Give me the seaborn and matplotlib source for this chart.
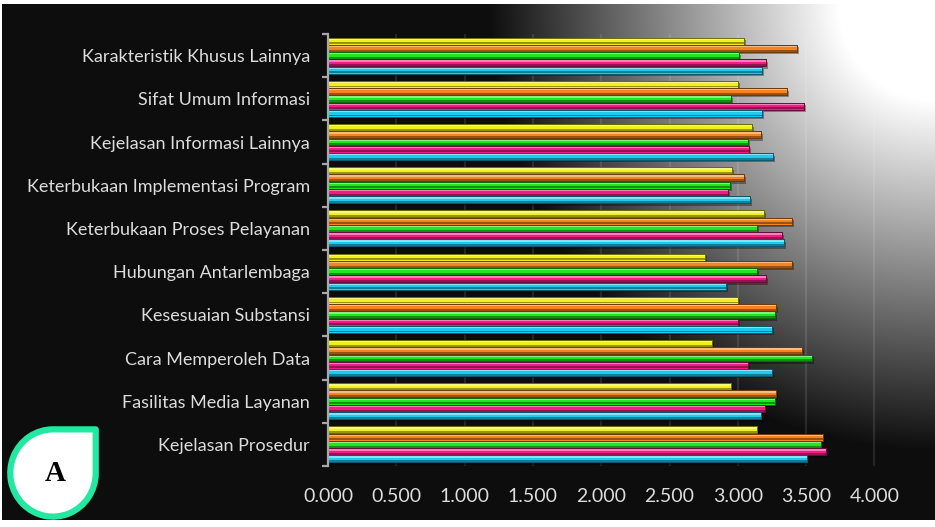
import numpy as np
import pandas as pd
import matplotlib
matplotlib.use("Agg")
import matplotlib.pyplot as plt
import matplotlib.patheffects as pe
from matplotlib.patches import Rectangle, PathPatch
from matplotlib.path import Path
from matplotlib.colors import to_rgb
import seaborn as sns

# ---- data -------------------------------------------------------------
kategori = [
    "Karakteristik Khusus Lainnya",
    "Sifat Umum Informasi",
    "Kejelasan Informasi Lainnya",
    "Keterbukaan Implementasi Program",
    "Keterbukaan Proses Pelayanan",
    "Hubungan Antarlembaga",
    "Kesesuaian Substansi",
    "Cara Memperoleh Data",
    "Fasilitas Media Layanan",
    "Kejelasan Prosedur",
]
kelompok = ["Kelompok 1", "Kelompok 2", "Kelompok 3", "Kelompok 4", "Kelompok 5"]

nilai_k1 = [3.048, 3.004, 3.101, 2.955, 3.192, 2.760, 2.999, 2.809, 2.950, 3.143]
nilai_k2 = [3.431, 3.358, 3.168, 3.048, 3.394, 3.394, 3.277, 3.468, 3.277, 3.621]
nilai_k3 = [3.009, 2.948, 3.075, 2.943, 3.143, 3.143, 3.272, 3.541, 3.272, 3.607]
nilai_k4 = [3.204, 3.487, 3.085, 2.926, 3.326, 3.204, 2.999, 3.077, 3.199, 3.643]
nilai_k5 = [3.175, 3.175, 3.260, 3.089, 3.338, 2.914, 3.253, 3.253, 3.168, 3.504]

x_ticks = [0.0, 0.5, 1.0, 1.5, 2.0, 2.5, 3.0, 3.5, 4.0]

warna = ["#f2ef1c", "#f5841e", "#1ee81e", "#f01c84", "#1ccaf2"]

seri = [nilai_k1, nilai_k2, nilai_k3, nilai_k4, nilai_k5]
df = pd.DataFrame(
    [(k, g, v) for g, vals in zip(kelompok, seri) for k, v in zip(kategori, vals)],
    columns=["kategori", "kelompok", "nilai"],
)

# ---- figure -----------------------------------------------------------
W, H = 935, 527
fig = plt.figure(figsize=(W / 100, H / 100), dpi=100, facecolor="white")

# dark panel with a radial glow in the upper right corner
bg = fig.add_axes([2 / W, 7 / H, 933 / W, 516 / H])
bg.set_axis_off()
pw, ph = 933, 516
xx, yy = np.meshgrid(np.arange(pw), np.arange(ph))
r = np.hypot(xx - (pw - 2), yy - 1)
t = np.clip((445 - r) / (445 - 95), 0, 1)
base = np.array(to_rgb("#0d0d0d"))
img = base[None, None, :] + (1 - base)[None, None, :] * t[..., None]
bg.imshow(img, aspect="auto", extent=(0, 1, 0, 1), interpolation="bilinear")
bg.set_xlim(0, 1)
bg.set_ylim(0, 1)

# main chart area
x0, x1 = 328, 928
y_top, y_bot = 34, 466
ax = fig.add_axes([x0 / W, (H - y_bot) / H, (x1 - x0) / W, (y_bot - y_top) / H])
ax.set_facecolor("none")

sns.barplot(
    data=df, y="kategori", x="nilai", hue="kelompok", order=kategori,
    hue_order=kelompok, palette=warna, orient="h", width=0.84, gap=0.05,
    saturation=1, legend=False, errorbar=None, ax=ax, zorder=3,
)

px_per_unit = 136.6
ax.set_xlim(0, (x1 - x0) / px_per_unit)
ax.set_ylim(9.5, -0.5)

# glossy bar styling derived from each drawn bar
bars = list(ax.patches)
for bar in bars:
    c = np.array(bar.get_facecolor()[:3])
    dark = c * 0.45
    bar.set_edgecolor(tuple(c * 0.4))
    bar.set_linewidth(0.7)
    bar.set_path_effects([
        pe.SimplePatchShadow(offset=(1.5, -1.8), alpha=0.35, shadow_rgbFace="black"),
        pe.Normal(),
    ])
    bx, by, bw, bh = bar.get_x(), bar.get_y(), bar.get_width(), bar.get_height()
    light = c + (1 - c) * 0.45
    ax.add_patch(Rectangle((bx, by + 0.12 * bh), bw, 0.22 * bh, facecolor=tuple(light),
                           edgecolor="none", zorder=4))
    ax.add_patch(Rectangle((bx, by + 0.68 * bh), bw, 0.28 * bh, facecolor=tuple(c * 0.62),
                           edgecolor="none", zorder=4))
    ax.add_patch(Rectangle((bx, by), bw, bh, facecolor="none",
                           edgecolor=tuple(dark), linewidth=0.7, zorder=5))

# axes decoration
for s in ["top", "right", "bottom"]:
    ax.spines[s].set_visible(False)
ax.spines["left"].set_color("#a8a8a8")
ax.spines["left"].set_linewidth(1.6)
ax.spines["left"].set_zorder(6)

ax.set_xticks(x_ticks)
ax.set_xticklabels([f"{v:.3f}" for v in x_ticks])
ax.set_yticks(np.arange(len(kategori)))
ax.set_yticks(np.arange(-0.5, len(kategori), 1), minor=True)
ax.grid(axis="x", color="white", alpha=0.1, linewidth=1.6, zorder=1)
ax.grid(axis="y", visible=False)
ax.set_axisbelow(True)
ax.set_xlabel("")
ax.set_ylabel("")

ax.tick_params(axis="y", which="major", length=0, pad=13, labelcolor="#dcdcdc",
               labelsize=13)
ax.tick_params(axis="y", which="minor", length=4, width=1.6, color="#a8a8a8")
ax.tick_params(axis="x", which="both", length=0, pad=16, labelcolor="#dcdcdc",
               labelsize=14)
for lab in ax.get_xticklabels() + ax.get_yticklabels():
    lab.set_fontfamily(["Lato", "DejaVu Sans"])

# "A" badge: a circle with a square top-right corner
badge = fig.add_axes([6 / W, 6 / H, 94 / W, 96 / H])
badge.set_axis_off()
badge.set_xlim(-1.1, 1.1)
badge.set_ylim(-1.1, 1.1)
arc = Path.arc(90, 360)
verts = [(1, 0), (1, 1), (0, 1)] + list(arc.vertices[1:])
codes = [Path.MOVETO, Path.LINETO, Path.LINETO] + list(arc.codes[1:])
verts.append((1, 0))
codes.append(Path.CLOSEPOLY)
badge.add_patch(PathPatch(Path(verts, codes), facecolor="white", edgecolor="#22e8a2",
                          linewidth=4.5, joinstyle="round"))
badge.text(0.05, -0.02, "A", ha="center", va="center", fontsize=21, fontweight="bold",
           family=["Liberation Serif", "DejaVu Serif"], color="black")

fig.savefig("out.png", dpi=100, facecolor=fig.get_facecolor())
